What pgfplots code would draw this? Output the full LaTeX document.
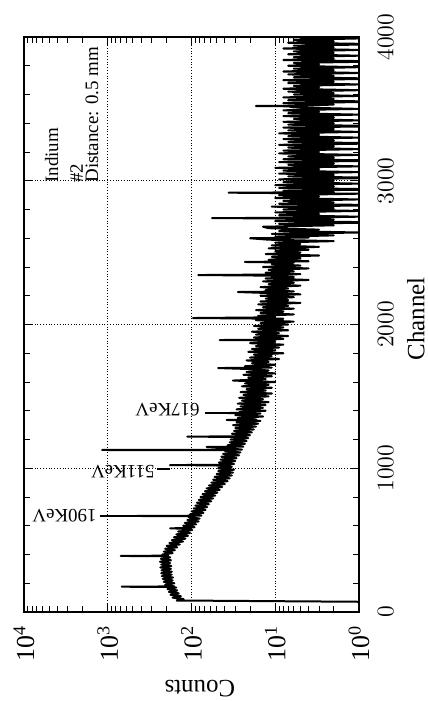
\documentclass[border=0pt]{standalone}
\usepackage{fontspec}
\setmainfont{Liberation Serif}
\usepackage{pgfplots}
\pgfplotsset{compat=1.18}
\usepackage{pgfplotstable}

\pgfplotstableread[row sep=\\]{
ch cnt\\
0 0.5\\ 70 0.5\\
80 150\\ 90 124\\ 100 168\\ 110 134\\ 120 178\\ 130 142\\ 140 186\\ 150 148\\ 160 194\\ 170 152\\
174 190\\ 176 680\\ 178 160\\ 180 168\\ 190 206\\ 200 160\\ 210 214\\ 220 168\\ 230 220\\ 240 166\\
250 226\\ 260 172\\ 270 230\\ 280 172\\ 290 228\\ 300 176\\ 310 236\\ 320 174\\ 330 230\\ 340 180\\
350 238\\ 360 176\\ 370 232\\ 380 180\\ 388 218\\ 390 700\\ 392 190\\ 400 222\\ 410 168\\ 420 214\\
430 158\\ 440 206\\ 450 148\\ 460 198\\ 470 138\\ 480 184\\ 490 126\\ 500 172\\ 510 118\\ 520 162\\
530 110\\ 540 152\\ 550 104\\ 560 144\\ 570 98\\ 580 134\\ 582 180\\ 584 118\\ 590 92\\ 600 126\\
610 88\\ 620 120\\ 630 82\\ 640 112\\ 650 80\\ 660 108\\ 666 100\\ 668 450\\ 670 76\\ 680 104\\
690 72\\ 700 100\\ 710 68\\ 720 94\\ 730 65\\ 740 90\\ 750 62\\ 760 86\\ 770 58\\ 780 82\\
790 55\\ 800 78\\ 810 52\\ 820 74\\ 830 49\\ 840 69\\ 850 46\\ 860 66\\ 870 43\\ 880 62\\
890 40\\ 900 58\\ 910 37\\ 920 55\\ 930 35\\ 940 53\\ 950 33\\ 960 50\\ 970 32\\ 980 48\\
990 31\\ 1000 48\\ 1010 33\\ 1020 52\\ 1022 181\\ 1024 40\\ 1030 31\\ 1040 47\\ 1050 30\\ 1060 45\\
1070 29\\ 1080 44\\ 1090 27\\ 1100 42\\ 1110 26\\ 1120 40\\ 1126 30\\ 1127 1170\\ 1128 32\\ 1130 25\\
1140 38\\ 1148 66\\ 1150 24\\ 1160 37\\ 1170 23\\ 1180 35\\ 1190 22\\ 1200 34\\ 1210 21\\ 1218 30\\
1220 112\\ 1222 28\\ 1230 20\\ 1240 33\\ 1250 19\\ 1260 31\\ 1270 18\\ 1280 30\\ 1290 17\\ 1300 32\\
1310 16\\ 1320 29\\ 1330 15\\ 1336 38\\ 1340 17\\ 1350 28\\ 1360 14\\ 1370 30\\ 1380 15\\ 1384 37\\
1388 20\\ 1390 27\\ 1400 13\\ 1410 29\\ 1420 14\\ 1430 26\\ 1440 13\\ 1450 28\\ 1460 12\\ 1470 25\\
1480 14\\ 1490 27\\ 1500 12\\ 1510 24\\ 1520 11\\ 1530 26\\ 1540 13\\ 1550 22\\ 1560 11\\ 1570 25\\
1580 12\\ 1590 23\\ 1600 10\\ 1610 32\\ 1620 13\\ 1630 21\\ 1640 11\\ 1650 24\\ 1660 10\\ 1670 22\\
1680 12\\ 1690 20\\ 1697 48\\ 1700 11\\ 1710 23\\ 1720 10\\ 1730 19\\ 1740 12\\ 1750 22\\ 1760 9\\
1770 20\\ 1780 11\\ 1790 18\\ 1800 8\\ 1810 21\\ 1820 10\\ 1830 19\\ 1840 9\\ 1850 17\\ 1860 8\\
1870 20\\ 1880 10\\ 1890 16\\ 1892 46\\ 1894 12\\ 1900 8\\ 1910 18\\ 1920 7\\ 1930 17\\ 1940 9\\
1950 19\\ 1960 7\\ 1970 16\\ 1980 8\\ 1990 18\\ 2000 7\\ 2010 15\\ 2020 6\\ 2030 17\\ 2040 8\\
2045 96\\ 2050 10\\ 2060 16\\ 2070 6\\ 2080 15\\ 2090 8\\ 2100 17\\ 2110 6\\ 2120 14\\ 2130 7\\
2140 16\\ 2150 5\\ 2160 15\\ 2170 7\\ 2180 13\\ 2190 6\\ 2200 15\\ 2210 5\\ 2220 14\\ 2226 28\\
2230 6\\ 2240 13\\ 2250 7\\ 2260 15\\ 2270 5\\ 2280 12\\ 2290 6\\ 2300 14\\ 2310 4\\ 2320 13\\
2330 6\\ 2340 12\\ 2344 83\\ 2348 8\\ 2350 5\\ 2360 13\\ 2370 6\\ 2380 12\\ 2390 4\\ 2400 14\\
2410 5\\ 2420 11\\ 2430 6\\ 2435 23\\ 2440 4\\ 2450 12\\ 2460 5\\ 2470 11\\ 2480 3\\ 2490 13\\
2500 5\\ 2510 10\\ 2520 4\\ 2530 12\\ 2540 3\\ 2550 11\\ 2560 5\\ 2570 10\\ 2580 2\\ 2590 12\\
2600 20\\ 2605 4\\ 2610 10\\ 2620 2\\ 2630 11\\ 2640 1\\ 2650 9\\ 2660 3\\ 2670 12\\ 2680 14\\
2690 2\\ 2700 9\\ 2710 0.5\\ 2720 10\\ 2730 2\\ 2738 8\\ 2740 57\\ 2742 7\\ 2750 1\\ 2760 9\\
2770 3\\ 2780 10\\ 2790 1\\ 2800 8\\ 2810 2\\ 2820 11\\ 2830 0.5\\ 2840 9\\ 2850 2\\ 2860 8\\
2870 1\\ 2880 10\\ 2890 3\\ 2900 9\\ 2910 1\\ 2917 36\\ 2920 2\\ 2930 8\\ 2940 0.5\\ 2950 9\\
2960 2\\ 2970 10\\ 2980 1\\ 2990 8\\ 3000 2\\ 3010 9\\ 3020 0.5\\ 3030 7\\ 3040 2\\ 3050 9\\
3060 1\\ 3070 8\\ 3080 3\\ 3090 10\\ 3100 1\\ 3110 7\\ 3120 2\\ 3130 9\\ 3140 0.5\\ 3150 8\\
3160 2\\ 3170 7\\ 3180 1\\ 3190 9\\ 3200 3\\ 3210 8\\ 3220 1\\ 3230 7\\ 3240 2\\ 3250 9\\
3260 0.5\\ 3270 7\\ 3280 2\\ 3290 8\\ 3300 1\\ 3310 7\\ 3320 3\\ 3330 9\\ 3340 1\\ 3350 7\\
3360 2\\ 3370 8\\ 3380 0.5\\ 3390 7\\ 3400 2\\ 3410 8\\ 3420 1\\ 3430 6\\ 3440 2\\ 3450 8\\
3460 1\\ 3470 7\\ 3480 3\\ 3490 8\\ 3500 1\\ 3510 6\\ 3518 7\\ 3520 17\\ 3522 5\\ 3530 2\\
3540 8\\ 3550 0.5\\ 3560 7\\ 3570 2\\ 3580 8\\ 3590 1\\ 3600 6\\ 3610 2\\ 3620 7\\ 3630 1\\
3640 8\\ 3650 3\\ 3660 6\\ 3670 1\\ 3680 7\\ 3690 2\\ 3700 8\\ 3710 0.5\\ 3720 6\\ 3730 2\\
3740 7\\ 3750 1\\ 3760 8\\ 3770 2\\ 3780 6\\ 3790 1\\ 3800 7\\ 3810 3\\ 3820 6\\ 3830 0.5\\
3840 8\\ 3850 2\\ 3860 6\\ 3870 1\\ 3880 7\\ 3890 2\\ 3900 6\\ 3910 1\\ 3920 8\\ 3930 2\\
3940 6\\ 3950 0.5\\ 3960 7\\ 3970 2\\ 3980 6\\ 3990 1\\ 4000 7\\
}\spectrum

\begin{document}
\begin{tikzpicture}
\path[use as bounding box] (-12bp,-44.5bp) rectangle (202bp,306bp);
\begin{axis}[
  at={(0,0)}, anchor=south west,
  scale only axis, width=167.5bp, height=287.5bp,
  xmode=log, x dir=reverse, xmin=1, xmax=10000,
  ymin=0, ymax=4000,
  xtick={1,10,100,1000,10000},
  xticklabels={10\textsuperscript{0},10\textsuperscript{1},10\textsuperscript{2},10\textsuperscript{3},10\textsuperscript{4}},
  minor xtick={2,3,4,5,6,7,8,9,20,30,40,50,60,70,80,90,200,300,400,500,600,700,800,900,2000,3000,4000,5000,6000,7000,8000,9000},
  ytick={0,1000,2000,3000,4000},
  minor ytick={200,400,600,800,1200,1400,1600,1800,2200,2400,2600,2800,3200,3400,3600,3800},
  yticklabel pos=right,
  scaled y ticks=false,
  yticklabel={\pgfmathprintnumber[fixed,1000 sep={}]{\tick}},
  xticklabel style={rotate=90, anchor=east, font=\fontsize{13}{14}\selectfont},
  yticklabel style={rotate=90, anchor=north, font=\fontsize{13}{14}\selectfont},
  xticklabel shift=3bp,
  yticklabel shift=6bp,
  grid=major,
  major grid style={densely dotted, black, line width=0.5pt},
  tick align=inside, major tick length=4bp, minor tick length=3bp,
  tick style={black, line width=0.5pt},
  axis line style={line width=0.6pt},
  xlabel={Counts}, ylabel={Channel},
  every axis x label/.style={at={(axis description cs:0.525,-0.133)}, anchor=center, rotate=180, font=\fontsize{12.5}{14}\selectfont},
  every axis y label/.style={at={(axis description cs:1.17,0.51)}, anchor=center, rotate=90, font=\fontsize{12.5}{14}\selectfont},
]
\addplot[black, line width=1bp, mark=none, line join=round] table[x=cnt, y=ch] {\spectrum};

\node[rotate=90, anchor=base west, inner sep=0pt, font=\fontsize{9.5}{11}\selectfont] at (axis cs:3926,2984) {Indium};
\node[rotate=90, anchor=base west, inner sep=0pt, font=\fontsize{9.5}{11}\selectfont] at (axis cs:1977,2984) {\#2};
\node[rotate=90, anchor=base west, inner sep=0pt, font=\fontsize{9.5}{11}\selectfont] at (axis cs:1306,2984) {Distance: 0.5 mm};

\node[rotate=180, anchor=west, inner sep=0pt, font=\fontsize{9.5}{11}\selectfont] at (axis cs:1343,671) {190KeV};
\draw[line width=0.6bp] (axis cs:1239,668) -- (axis cs:448,668);
\node[rotate=180, anchor=west, inner sep=0pt, font=\fontsize{9.5}{11}\selectfont] at (axis cs:273,977) {511KeV};
\draw[line width=0.6bp] (axis cs:258,995) -- (axis cs:181,995);
\node[rotate=180, anchor=west, inner sep=0pt, font=\fontsize{9.5}{11}\selectfont] at (axis cs:79,1405) {617KeV};
\draw[line width=0.6bp] (axis cs:69,1384) -- (axis cs:37,1384);
\end{axis}
\end{tikzpicture}
\end{document}
